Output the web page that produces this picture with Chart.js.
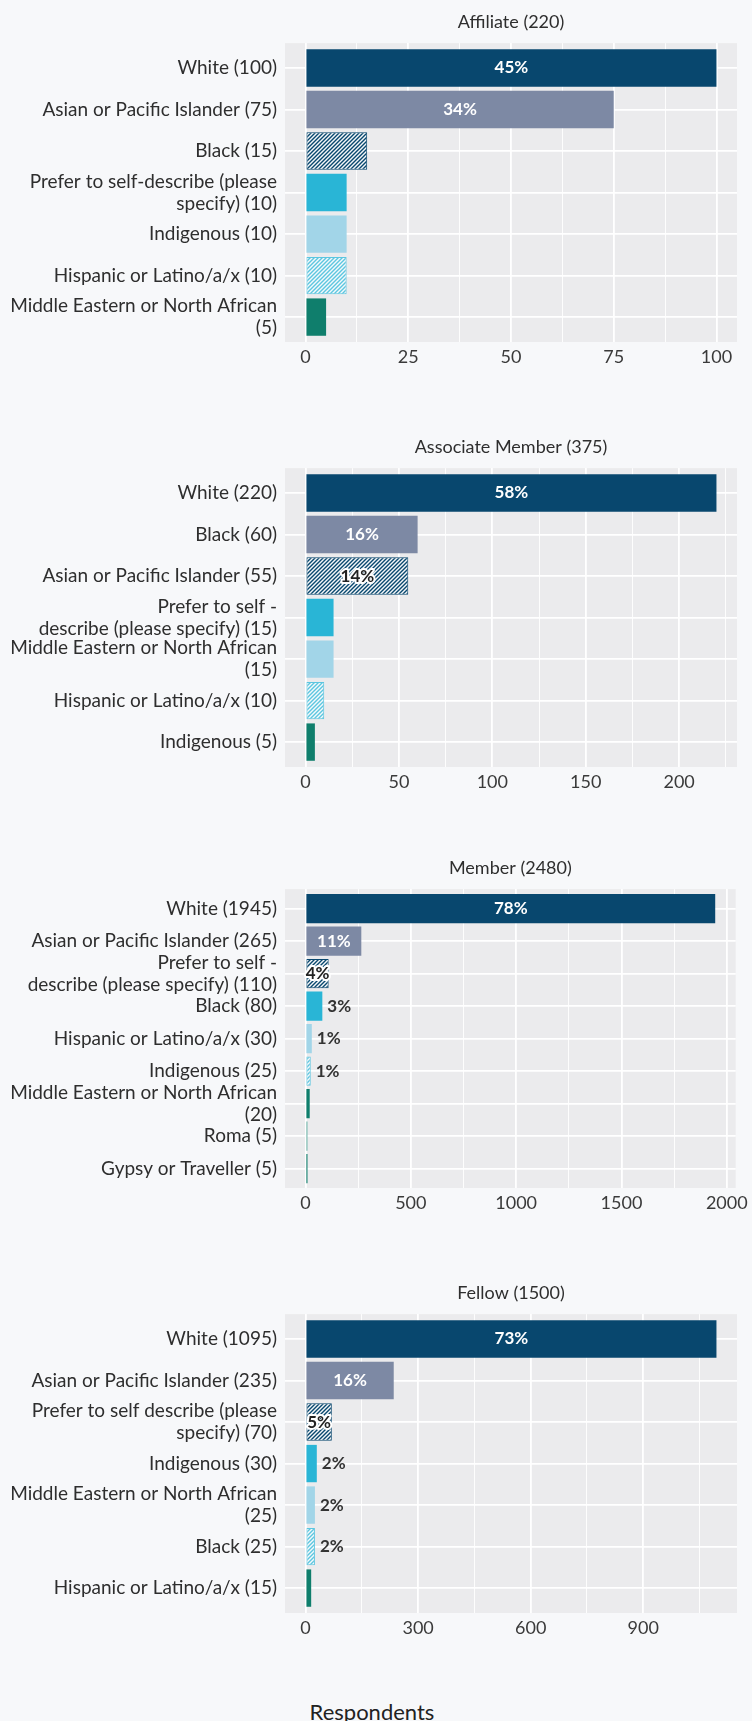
<!DOCTYPE html>
<html>
<head>
<meta charset="utf-8">
<title>Respondents by ethnicity and membership grade</title>
<script src="https://cdn.jsdelivr.net/npm/chart.js@4.4.1/dist/chart.umd.min.js"></script>
<style>
  html, body { margin: 0; padding: 0; background: #f7f8fa; }
  body { width: 752px; height: 1721px; position: relative; overflow: hidden;
         font-family: Lato, "Noto Sans", sans-serif; }
  .grade { position: absolute; left: 0; width: 752px; height: 370px; }
  #xTitle { position: absolute; top: 1698px; left: 0; width: 744px; text-align: center;
            font-size: 22px; color: #222; }
</style>
</head>
<body>
<div class="grade" style="top:0px"><canvas id="affiliateChart" width="752" height="370"></canvas></div>
<div class="grade" style="top:425px"><canvas id="associateChart" width="752" height="370"></canvas></div>
<div class="grade" style="top:846px"><canvas id="memberChart" width="752" height="370"></canvas></div>
<div class="grade" style="top:1271px"><canvas id="fellowChart" width="752" height="370"></canvas></div>
<div id="xTitle">Respondents</div>

<script>
// ── Data ─────────────────────────────────────────
const affiliateTitle = 'Affiliate (220)';
const affiliateCategories = [
    ['White (100)'],
    ['Asian or Pacific Islander (75)'],
    ['Black (15)'],
    ['Prefer to self-describe (please', 'specify) (10)'],
    ['Indigenous (10)'],
    ['Hispanic or Latino/a/x (10)'],
    ['Middle Eastern or North African', '(5)']
];
const affiliateValues   = [100, 75, 15, 10, 10, 10, 5];
const affiliatePercents = ['45%', '34%', null, null, null, null, null];
const affiliateTicks    = [0, 25, 50, 75, 100];

const associateTitle = 'Associate Member (375)';
const associateCategories = [
    ['White (220)'],
    ['Black (60)'],
    ['Asian or Pacific Islander (55)'],
    ['Prefer to self -', 'describe (please specify) (15)'],
    ['Middle Eastern or North African', '(15)'],
    ['Hispanic or Latino/a/x (10)'],
    ['Indigenous (5)']
];
const associateValues   = [220, 60, 55, 15, 15, 10, 5];
const associatePercents = ['58%', '16%', '14%', null, null, null, null];
const associateTicks    = [0, 50, 100, 150, 200];

const memberTitle = 'Member (2480)';
const memberCategories = [
    ['White (1945)'],
    ['Asian or Pacific Islander (265)'],
    ['Prefer to self -', 'describe (please specify) (110)'],
    ['Black (80)'],
    ['Hispanic or Latino/a/x (30)'],
    ['Indigenous (25)'],
    ['Middle Eastern or North African', '(20)'],
    ['Roma (5)'],
    ['Gypsy or Traveller (5)']
];
const memberValues   = [1945, 265, 110, 80, 30, 25, 20, 5, 5];
const memberPercents = ['78%', '11%', '4%', '3%', '1%', '1%', null, null, null];
const memberTicks    = [0, 500, 1000, 1500, 2000];

const fellowTitle = 'Fellow (1500)';
const fellowCategories = [
    ['White (1095)'],
    ['Asian or Pacific Islander (235)'],
    ['Prefer to self describe (please', 'specify) (70)'],
    ['Indigenous (30)'],
    ['Middle Eastern or North African', '(25)'],
    ['Black (25)'],
    ['Hispanic or Latino/a/x (15)']
];
const fellowValues   = [1095, 235, 70, 30, 25, 25, 15];
const fellowPercents = ['73%', '16%', '5%', '2%', '2%', '2%', null];
const fellowTicks    = [0, 300, 600, 900];

// ── Styles ───────────────────────────────────────
const FONT = 'Lato, "Noto Sans", sans-serif';
const NAVY = '#08476e';
const SLATE = '#7d89a4';
const CYAN = '#29b5d6';
const LIGHT_BLUE = '#a2d5e8';
const TEAL = '#0f7e6c';
const TEAL_LIGHT = '#72b6ab';
const PANEL = '#ebebed';

Chart.defaults.font.family = FONT;

// diagonal hatch fill, stripes going up to the right
function makeHatch(stripe, bg) {
    const c = document.createElement('canvas');
    c.width = 4;
    c.height = 4;
    const g = c.getContext('2d');
    g.fillStyle = bg;
    g.fillRect(0, 0, 4, 4);
    g.strokeStyle = stripe;
    g.lineWidth = 1.4;
    g.beginPath();
    g.moveTo(0, 4); g.lineTo(4, 0);
    g.moveTo(-1, 1); g.lineTo(1, -1);
    g.moveTo(3, 5); g.lineTo(5, 3);
    g.stroke();
    return g.createPattern(c, 'repeat');
}

const hatchNavy = makeHatch(NAVY, '#f4f7f9');
const hatchCyan = makeHatch('#5cc6e0', '#f4f9fb');

// fill by rank inside each grade
const rankFills   = [NAVY, SLATE, hatchNavy, CYAN, LIGHT_BLUE, hatchCyan, TEAL, TEAL_LIGHT, TEAL];
const rankBorders = [null, null, NAVY, null, null, '#5cc6e0', null, null, null];

// ── Plugins ──────────────────────────────────────
const panelBackground = {
    id: 'panelBackground',
    beforeDraw(chart) {
        const { ctx, chartArea: a } = chart;
        ctx.save();
        ctx.fillStyle = PANEL;
        ctx.fillRect(a.left, a.top, a.right - a.left, a.bottom - a.top);
        ctx.restore();
    }
};

const barLabels = {
    id: 'barLabels',
    afterDatasetsDraw(chart, args, opts) {
        const { ctx } = chart;
        const meta = chart.getDatasetMeta(0);
        ctx.save();
        ctx.font = 'bold 17px ' + FONT;
        ctx.textBaseline = 'middle';
        meta.data.forEach((bar, i) => {
            const text = opts.percents[i];
            if (!text) return;
            if (parseFloat(text) >= 4) {
                const x = (bar.x + bar.base) / 2;
                ctx.textAlign = 'center';
                if (rankBorders[i]) {
                    ctx.lineWidth = 4;
                    ctx.lineJoin = 'round';
                    ctx.strokeStyle = '#ffffff';
                    ctx.strokeText(text, x, bar.y);
                    ctx.fillStyle = '#222222';
                } else {
                    ctx.fillStyle = '#ffffff';
                }
                ctx.fillText(text, x, bar.y);
            } else {
                ctx.textAlign = 'left';
                ctx.fillStyle = '#333333';
                ctx.fillText(text, bar.x + 5, bar.y);
            }
        });
        ctx.restore();
    }
};

// ── Chart builder ────────────────────────────────
function drawGrade(canvasId, title, categories, values, percents, majorTicks) {
    const top = Math.max(...values);
    const xMin = -0.05 * top;
    const xMax = 1.05 * top;
    const step = majorTicks[1] - majorTicks[0];
    const xGrid = [];
    majorTicks.forEach(t => { xGrid.push(t, t + step / 2); });
    const xLines = xGrid.filter(v => v >= xMin && v <= xMax);
    const rows = categories.map((_, i) => i);

    new Chart(document.getElementById(canvasId), {
        type: 'bar',
        data: {
            datasets: [{
                data: values.map((v, i) => ({ x: v, y: i })),
                backgroundColor: c => rankFills[c.dataIndex],
                borderColor: c => rankBorders[c.dataIndex] || 'rgba(0,0,0,0)',
                borderWidth: c => rankBorders[c.dataIndex] ? 1 : 0,
                borderSkipped: false,
                minBarLength: 2,
                categoryPercentage: 1,
                barPercentage: 0.9
            }]
        },
        options: {
            indexAxis: 'y',
            responsive: false,
            animation: false,
            events: [],
            layout: { padding: { left: 0, right: 15, top: 0, bottom: 0 } },
            scales: {
                x: {
                    type: 'linear',
                    bounds: 'data',
                    min: xMin,
                    max: xMax,
                    afterBuildTicks: s => { s.ticks = xLines.map(v => ({ value: v })); },
                    afterFit: s => { s.height = 28; },
                    grid: {
                        color: '#ffffff',
                        lineWidth: c => (c.tick && majorTicks.includes(c.tick.value)) ? 1.8 : 0.9,
                        drawTicks: false
                    },
                    border: { display: false },
                    ticks: {
                        autoSkip: false,
                        maxRotation: 0,
                        padding: 4,
                        color: '#3a3a3a',
                        font: { size: 18 },
                        callback: v => majorTicks.includes(v) ? String(v) : ''
                    }
                },
                y: {
                    type: 'linear',
                    bounds: 'data',
                    offset: false,
                    reverse: true,
                    min: -0.6,
                    max: categories.length - 0.4,
                    afterBuildTicks: s => { s.ticks = rows.map(v => ({ value: v })); },
                    afterFit: s => { s.width = 285; },
                    grid: { color: '#ffffff', lineWidth: 1.8, drawTicks: false, offset: false },
                    border: { display: false },
                    ticks: {
                        autoSkip: false,
                        padding: 8,
                        color: '#2e2e2e',
                        font: { size: 19, lineHeight: 1.15 },
                        callback: v => categories[v]
                    }
                }
            },
            plugins: {
                legend: { display: false },
                tooltip: { enabled: false },
                title: {
                    display: true,
                    text: title,
                    fullSize: false,
                    color: '#2e2e2e',
                    font: { size: 18, weight: 'normal' },
                    padding: { top: 11.5, bottom: 10 }
                },
                barLabels: { percents }
            }
        },
        plugins: [panelBackground, barLabels]
    });
}

drawGrade('affiliateChart', affiliateTitle, affiliateCategories, affiliateValues, affiliatePercents, affiliateTicks);
drawGrade('associateChart', associateTitle, associateCategories, associateValues, associatePercents, associateTicks);
drawGrade('memberChart', memberTitle, memberCategories, memberValues, memberPercents, memberTicks);
drawGrade('fellowChart', fellowTitle, fellowCategories, fellowValues, fellowPercents, fellowTicks);
</script>
</body>
</html>
